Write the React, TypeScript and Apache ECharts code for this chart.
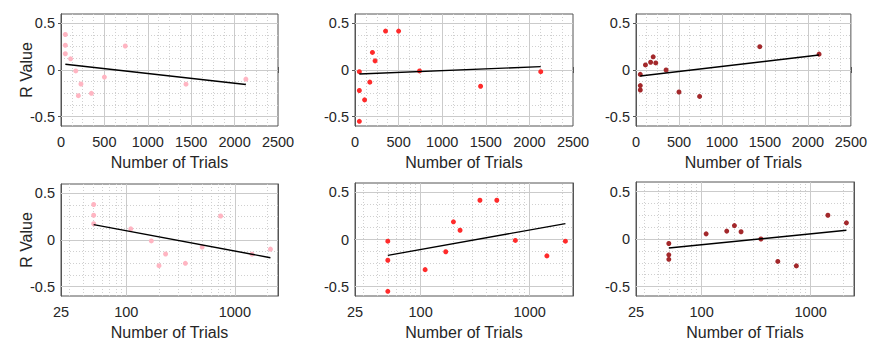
import React, { useEffect, useRef } from "react";
import * as echarts from "echarts";

// ---- data ----
const trials = [50, 50, 50, 110, 170, 200, 230, 350, 500, 740, 1440, 2130];
const rValuesPink = [0.38, 0.265, 0.174, 0.12, -0.01, -0.275, -0.15, -0.25, -0.076, 0.257, -0.152, -0.098];
const rValuesRed = [-0.018, -0.22, -0.55, -0.32, -0.13, 0.188, 0.098, 0.417, 0.417, -0.01, -0.174, -0.018];
const rValuesDark = [-0.047, -0.167, -0.214, 0.054, 0.083, 0.141, 0.076, 0.0, -0.236, -0.283, 0.25, 0.17];

const fitX = [50, 2130];
const linFitPink = [0.062, -0.156];
const linFitRed = [-0.043, 0.036];
const linFitDark = [-0.065, 0.16];
const logFitPink = [0.165, -0.19];
const logFitRed = [-0.168, 0.168];
const logFitDark = [-0.095, 0.092];

const xTicksLinear = [0, 500, 1000, 1500, 2000, 2500];
const xTicksLog = [25, 100, 1000, 2500];
const yTicks = [-0.5, 0, 0.5];
const yRange = [-0.6, 0.6];

const colorPink = "#ffb5c2";
const colorRed = "#ff2b2b";
const colorDark = "#a3282b";

const FONT = "'Liberation Sans', Arial, Helvetica, sans-serif";
const TXT = "#262626";
const BOX = "#555555";

type Panel = {
  log: boolean;
  values: number[];
  fit: number[];
  color: string;
  left: number;
  top: number;
  width: number;
  height: number;
  yName: boolean;
};

const panels: Panel[] = [
  { log: false, values: rValuesPink, fit: linFitPink, color: colorPink, left: 61, top: 14, width: 217, height: 112, yName: true },
  { log: false, values: rValuesRed, fit: linFitRed, color: colorRed, left: 355, top: 14, width: 218, height: 112, yName: false },
  { log: false, values: rValuesDark, fit: linFitDark, color: colorDark, left: 636, top: 14, width: 218, height: 112, yName: false },
  { log: true, values: rValuesPink, fit: logFitPink, color: colorPink, left: 61, top: 184, width: 217, height: 112, yName: true },
  { log: true, values: rValuesRed, fit: logFitRed, color: colorRed, left: 355, top: 183, width: 218, height: 113, yName: false },
  { log: true, values: rValuesDark, fit: logFitDark, color: colorDark, left: 636, top: 182, width: 218, height: 116, yName: false },
];

function fmtY(v: number): string {
  const r = Math.round(v * 10) / 10;
  for (const t of yTicks) {
    if (Math.abs(r - t) < 1e-6) return String(t);
  }
  return "";
}

function buildOption() {
  const grid: any[] = [];
  const xAxis: any[] = [];
  const yAxis: any[] = [];
  const series: any[] = [];

  panels.forEach((p, i) => {
    grid.push({
      left: p.left,
      top: p.top,
      width: p.width,
      height: p.height,
      show: true,
      borderColor: BOX,
      borderWidth: 1,
      backgroundColor: "transparent",
      containLabel: false,
    });
    const xMin = p.log ? xTicksLog[0] : xTicksLinear[0];
    const xMax = p.log ? xTicksLog[xTicksLog.length - 1] : xTicksLinear[xTicksLinear.length - 1];
    const baseX: any = {
      gridIndex: i,
      type: p.log ? "log" : "value",
      min: xMin,
      max: xMax,
      splitLine: { show: false },
      axisLine: { show: true, lineStyle: { color: BOX, width: 1 } },
      axisTick: { show: true, inside: true, length: 3, lineStyle: { color: BOX } },
    };
    if (p.log) baseX.logBase = 10;
    else baseX.interval = xTicksLinear[1] - xTicksLinear[0];

    xAxis.push({
      ...baseX,
      position: "bottom",
      axisLabel: {
        show: true,
        margin: 8,
        fontSize: 14.5,
        color: TXT,
        fontFamily: FONT,
        showMaxLabel: !p.log,
        showMinLabel: true,
        hideOverlap: false,
        formatter: (v: number) => String(Math.round(v)),
      },
      name: "Number of Trials",
      nameLocation: "middle",
      nameGap: 28,
      nameMoveOverlap: false,
      nameTextStyle: { fontSize: 16, color: TXT, fontFamily: FONT },
    });
    xAxis.push({ ...baseX, position: "top", axisLabel: { show: false } });

    const baseY: any = {
      gridIndex: i,
      type: "value",
      min: yRange[0],
      max: yRange[1],
      interval: 0.1,
      splitLine: { show: false },
      axisLine: { show: true, lineStyle: { color: BOX, width: 1 } },
      axisTick: { show: true, inside: true, length: 3, customValues: yTicks, lineStyle: { color: BOX } },
    };
    yAxis.push({
      ...baseY,
      position: "left",
      axisLabel: {
        show: true,
        margin: 6,
        fontSize: 14.5,
        color: TXT,
        fontFamily: FONT,
        customValues: yTicks,
        formatter: fmtY,
      },
      name: p.yName ? "R Value" : "",
      nameLocation: "middle",
      nameRotate: 90,
      nameGap: 27,
      nameMoveOverlap: false,
      nameTextStyle: { fontSize: 16, color: TXT, fontFamily: FONT },
    });
    yAxis.push({ ...baseY, position: "right", axisLabel: { show: false } });

    // grid lines
    const majorX: number[] = [];
    const minorX: number[] = [];
    if (p.log) {
      for (let d = 10; d <= 1000; d *= 10) {
        for (let m = 1; m <= 9; m++) {
          const v = m * d;
          if (v <= xMin || v >= xMax) continue;
          if (m === 1) majorX.push(v);
          else minorX.push(v);
        }
      }
    } else {
      const step = xTicksLinear[1] - xTicksLinear[0];
      for (let v = xMin + step; v < xMax; v += step) majorX.push(v);
      for (let v = xMin + step / 4; v < xMax; v += step / 4) {
        if (Math.abs(v / step - Math.round(v / step)) > 1e-6) minorX.push(v);
      }
    }
    const majorY = yTicks.slice();
    const minorY: number[] = [];
    for (let k = -4; k <= 4; k++) {
      const v = k * 0.125;
      if (v <= yRange[0] || v >= yRange[1]) continue;
      if (k % 4 !== 0) minorY.push(v);
    }
    const toLines = (xs: number[], ys: number[]) => [
      ...xs.map((x) => ({ coords: [[x, yRange[0]], [x, yRange[1]]] })),
      ...ys.map((y) => ({ coords: [[xMin, y], [xMax, y]] })),
    ];
    series.push({
      type: "lines",
      coordinateSystem: "cartesian2d",
      xAxisIndex: 2 * i,
      yAxisIndex: 2 * i,
      data: toLines(minorX, minorY),
      lineStyle: { color: "#d0d0d0", width: 1, type: [1, 2], opacity: 1 },
      silent: true,
      z: 0,
    });
    series.push({
      type: "lines",
      coordinateSystem: "cartesian2d",
      xAxisIndex: 2 * i,
      yAxisIndex: 2 * i,
      data: toLines(majorX, majorY),
      lineStyle: { color: "#cbcbcb", width: 1, type: "solid", opacity: 1 },
      silent: true,
      z: 1,
    });
    series.push({
      type: "scatter",
      xAxisIndex: 2 * i,
      yAxisIndex: 2 * i,
      data: trials.map((t, j) => [t, p.values[j]]),
      symbolSize: 5,
      itemStyle: { color: p.color, opacity: 1 },
      silent: true,
      z: 3,
    });
    series.push({
      type: "line",
      xAxisIndex: 2 * i,
      yAxisIndex: 2 * i,
      data: fitX.map((x, j) => [x, p.fit[j]]),
      symbol: "none",
      lineStyle: { color: "#000000", width: 1.4 },
      silent: true,
      z: 4,
    });
  });

  return {
    animation: false,
    backgroundColor: "#ffffff",
    grid,
    xAxis,
    yAxis,
    series,
  };
}

export default function App() {
  const ref = useRef<HTMLDivElement>(null);
  useEffect(() => {
    document.body.style.margin = "0";
    if (!ref.current) return;
    const chart = echarts.init(ref.current, undefined, { renderer: "svg" });
    chart.setOption(buildOption() as any);
    return () => {
      chart.dispose();
    };
  }, []);
  return <div ref={ref} style={{ width: 870, height: 341 }} />;
}
